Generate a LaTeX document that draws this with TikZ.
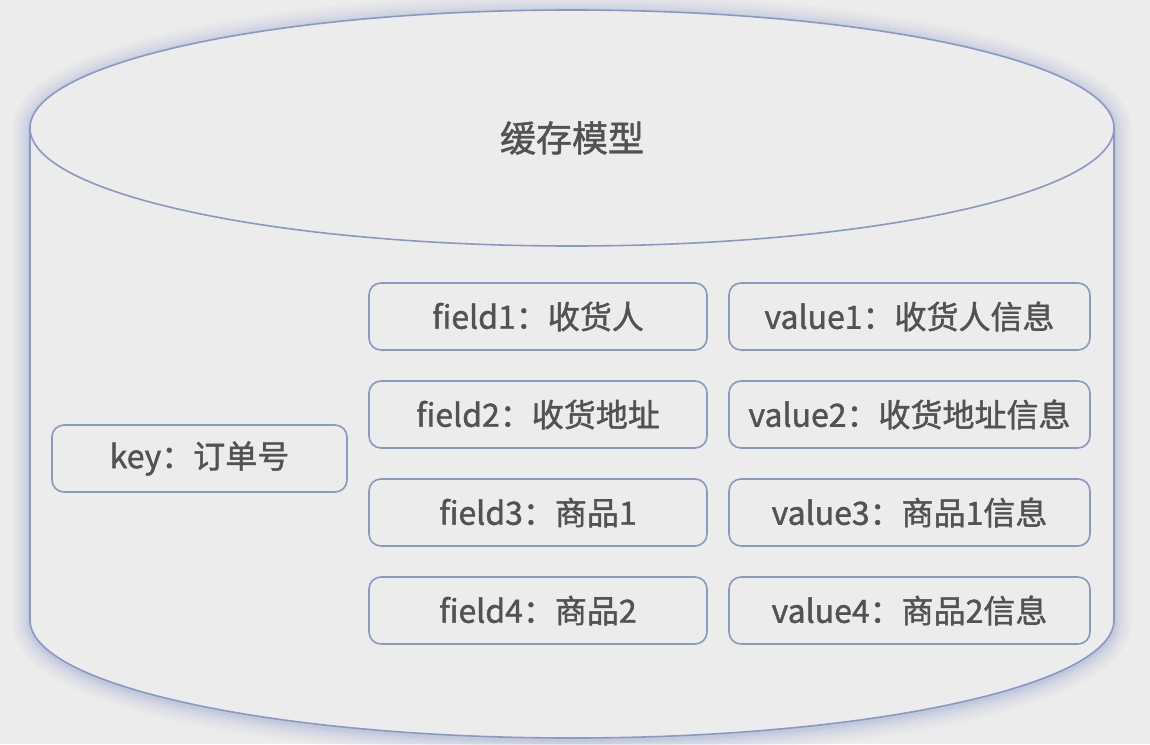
\documentclass[tikz,border=0pt]{standalone}
\usepackage{fontspec}
\newfontfamily\cjk[FakeBold=1.3]{Noto Sans CJK SC}
\definecolor{bgc}{HTML}{ECECEC}
\definecolor{linec}{HTML}{8A98C4}
\definecolor{glowc}{HTML}{8090C8}
\definecolor{txtc}{HTML}{525252}
\tikzset{
  kvbox/.style={draw=linec, line width=1.6pt, rounded corners=12pt, fill=bgc,
    minimum height=67pt, inner sep=0pt, text=txtc,
    font=\cjk\fontsize{32}{37}\selectfont},
  titletext/.style={text=txtc, inner sep=0pt, font=\cjk\fontsize{36}{42}\selectfont},
  cylline/.style={draw=linec, line width=1.6pt}
}
\begin{document}
\begin{tikzpicture}[x=1pt,y=-1pt]
\fill[bgc] (0,0) rectangle (1150,744);
\useasboundingbox (0,0) rectangle (1150,744);
% glow
\foreach \w/\o in {36/0.035,30/0.04,24/0.045,18/0.055,13/0.065,8/0.08,4/0.1}{
  \draw[glowc, line width=\w pt, opacity=\o, line join=round]
    (30,130) arc[start angle=180, end angle=360, x radius=542, y radius=118]
    -- (1114,622) arc[start angle=0, end angle=180, x radius=542, y radius=118]
    -- cycle;
}
% body
\fill[bgc] (30,128) arc[start angle=180, end angle=360, x radius=542, y radius=118]
    -- (1114,620) arc[start angle=0, end angle=180, x radius=542, y radius=118]
    -- cycle;
\draw[cylline] (30,128) -- (30,620) arc[start angle=180, end angle=0, x radius=542, y radius=118] -- (1114,128);
\draw[cylline] (572,128) ellipse[x radius=542, y radius=118];
\node[titletext] (title) at (572,138) {缓存模型};
% key
\node[kvbox, minimum width=295pt] (key) at (199.5,458.5) {key：订单号};
% fields
\node[kvbox, minimum width=338pt] (f1) at (538,316.5) {field1：收货人};
\node[kvbox, minimum width=338pt] (f2) at (538,414.5) {field2：收货地址};
\node[kvbox, minimum width=338pt] (f3) at (538,512.5) {field3：商品1};
\node[kvbox, minimum width=338pt] (f4) at (538,610.5) {field4：商品2};
% values
\node[kvbox, minimum width=361pt] (v1) at (909.5,316.5) {value1：收货人信息};
\node[kvbox, minimum width=361pt] (v2) at (909.5,414.5) {value2：收货地址信息};
\node[kvbox, minimum width=361pt] (v3) at (909.5,512.5) {value3：商品1信息};
\node[kvbox, minimum width=361pt] (v4) at (909.5,610.5) {value4：商品2信息};
\end{tikzpicture}
\end{document}
